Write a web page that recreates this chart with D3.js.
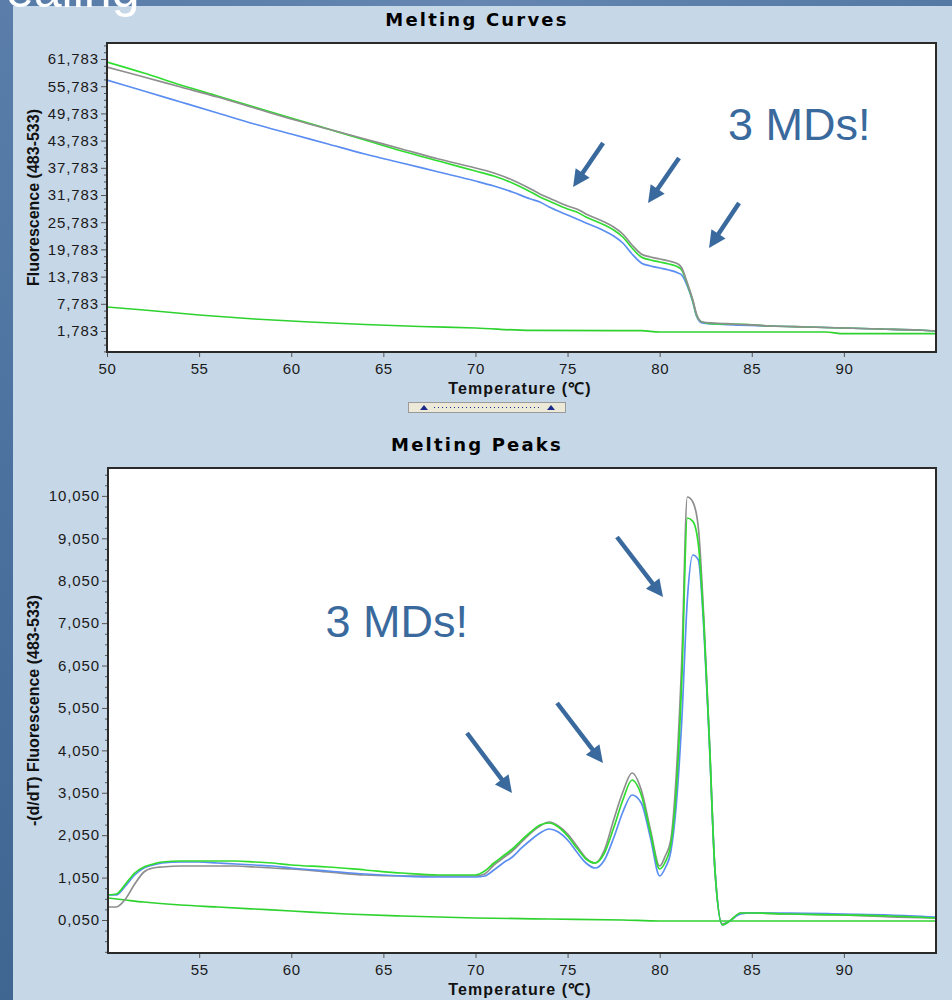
<!DOCTYPE html>
<html>
<head>
<meta charset="utf-8">
<script src="https://cdn.jsdelivr.net/npm/d3@7"></script>
<style>
  html, body { margin: 0; padding: 0; background: #c6d7e7; }
  svg { display: block; }
</style>
</head>
<body>
<svg id="chart" width="952" height="1000"></svg>
<script>
// ---------- Melting curves (fluorescence 483-533 vs temperature) ----------
const meltTemps = [50,52,54,56,58,60,62,64,66,68,70,71,72,73,73.5,74,75,75.5,76,77,77.5,78,78.5,79,79.5,80,80.5,81,81.2,81.5,81.8,82,82.3,83,84,86,88,90,92,94,95];
const meltGray  = [60021,57815,55609,53403,50977,48550,46344,44138,41932,39726,37741,36638,35094,33108,32005,31123,29358,28696,27593,25828,24725,23181,20755,18769,18107,17666,17225,16563,15681,12372,8622,5533,3768,3548,3327,2886,2665,2445,2224,2004,1783];
const meltGreen = [61124,58698,56051,53624,51197,48771,46344,43918,41491,39285,37079,35976,34432,32446,31343,30461,28696,28034,26931,25167,24064,22519,20093,18107,17446,17004,16563,15901,15240,12151,8401,5313,3768,3327,3327,2886,2665,2445,2224,2004,1783];
const meltBlue  = [57154,54727,52300,49874,47447,45241,43035,40829,38844,36858,34873,33770,32446,30902,30240,29137,27373,26490,25608,23843,22740,21196,18769,16784,16122,15681,15240,14578,14137,11710,8180,5092,3548,3327,3107,2886,2665,2445,2224,2004,1783];
// negative control
const meltBaseTemps = [50,52,55,58,61,64,67,70,73,79,80,89,90,95];
const meltBase      = [7077,6416,5313,4430,3768,3217,2776,2445,1900,1850,1562,1562,1187,1187];

const meltXTicks = [50,55,60,65,70,75,80,85,90];
const meltYTicks = [1783,7783,13783,19783,25783,31783,37783,43783,49783,55783,61783];

// ---------- Melting peaks (-d/dT fluorescence vs temperature) ----------
const peakTemps = [50.05,50.5,51,51.5,52,52.5,53,54,55,56,57,58,59,60,62,64,66,68,70,70.5,71,71.5,72,72.5,73,73.5,74,74.5,75,75.5,76,76.5,77,77.5,78,78.5,79,79.5,80,80.3,80.6,80.9,81.2,81.5,81.8,82.1,82.4,82.7,83,83.4,83.8,84.4,85,87,90,92.5,95];
const peakGray  = [357,357,545,899,1182,1276,1300,1323,1323,1323,1323,1300,1276,1253,1182,1111,1088,1088,1088,1135,1347,1512,1677,1889,2101,2267,2361,2267,2078,1795,1512,1394,1701,2408,3068,3516,3115,2172,1323,1559,1936,3469,6180,10024,9906,9293,7124,4294,1229,-44,26,215,215,191,168,121,97];
const peakGreen = [640,663,899,1158,1300,1370,1418,1441,1441,1441,1441,1418,1394,1347,1300,1229,1158,1111,1111,1205,1394,1559,1724,1936,2125,2290,2337,2243,2031,1748,1488,1394,1630,2219,2880,3351,2998,2101,1253,1418,1819,3115,5709,9529,9450,8900,7006,4247,1229,-68,26,215,215,191,168,144,97];
const peakBlue  = [640,640,852,1111,1276,1347,1394,1418,1418,1394,1370,1347,1323,1276,1205,1135,1088,1064,1064,1088,1229,1394,1535,1748,1936,2101,2196,2125,1936,1653,1394,1276,1465,1984,2597,2998,2809,1984,1088,1276,1653,2762,4766,7596,8657,8539,6888,4176,1229,-68,26,191,215,215,191,168,121];
// negative control
const peakBaseTemps = [50.05,51,52,54,56,58,60,63,66,70,74,78,80,95];
const peakBase      = [569,522,474,404,357,309,262,191,144,97,74,50,26,26];

const peakXTicks = [55,60,65,70,75,80,85,90];
const peakYTicks = [50,1050,2050,3050,4050,5050,6050,7050,8050,9050,10050];

// annotation arrows: [tail temperature, tail value, tip temperature, tip value]
const meltArrows = [[76.93,43256,75.30,33549],[81.05,39947,79.37,30020],[84.31,30020,82.68,20093]];
const peakArrows = [[69.54,4459,71.98,3045],[74.43,5167,76.92,3752],[77.68,9081,80.18,7666]];

const COLORS = { gray: "#8e8e8e", green: "#2fdc2f", blue: "#5b8ef0", base: "#2ed22e", note: "#3a6a9d" };

// ---------- drawing ----------
const svg = d3.select("#chart");
const W = 952, H = 1000;
const defs = svg.append("defs");

const gv = defs.append("linearGradient").attr("id", "slideSide").attr("x1", 0).attr("y1", 0).attr("x2", 0).attr("y2", 1);
gv.append("stop").attr("offset", "0%").attr("stop-color", "#5a7ea9");
gv.append("stop").attr("offset", "45%").attr("stop-color", "#4c73a0");
gv.append("stop").attr("offset", "100%").attr("stop-color", "#3f6691");
const gh = defs.append("linearGradient").attr("id", "slideTop").attr("x1", 0).attr("y1", 0).attr("x2", 1).attr("y2", 0);
gh.append("stop").attr("offset", "0%").attr("stop-color", "#587ca8");
gh.append("stop").attr("offset", "50%").attr("stop-color", "#6486b0");
gh.append("stop").attr("offset", "100%").attr("stop-color", "#5479a5");

svg.append("rect").attr("width", W).attr("height", H).attr("fill", "#c6d7e7");
svg.append("rect").attr("x", 0).attr("y", 0).attr("width", W).attr("height", 6).attr("fill", "url(#slideTop)");
svg.append("rect").attr("x", 0).attr("y", 0).attr("width", 13).attr("height", H).attr("fill", "url(#slideSide)");
svg.append("text").attr("x", 6).attr("y", 7)
  .attr("font-family", "Liberation Sans, Arial, sans-serif").attr("font-size", 50)
  .attr("fill", "#ffffff").text("ealing");

const thousands = v => `${Math.floor(v / 1000)},${String(v % 1000).padStart(3, "0")}`;

function drawPanel(p) {
  const x = d3.scaleLinear().domain(p.xDomain).range([p.left, p.right]);
  const y = d3.scaleLinear().domain(p.yDomain).range([p.bottom, p.top]);
  const g = svg.append("g");

  g.append("text").attr("x", 477).attr("y", p.titleY).attr("text-anchor", "middle")
    .attr("font-family", "DejaVu Sans, Verdana, sans-serif").attr("font-weight", "bold")
    .attr("font-size", 18).attr("letter-spacing", 2.2).attr("fill", "#000").text(p.title);

  g.append("rect").attr("x", p.left).attr("y", p.top)
    .attr("width", p.right - p.left).attr("height", p.bottom - p.top).attr("fill", "#ffffff");

  const clipId = "clip-" + p.id;
  defs.append("clipPath").attr("id", clipId).append("rect")
    .attr("x", p.left).attr("y", p.top).attr("width", p.right - p.left).attr("height", p.bottom - p.top);

  // minor y ticks
  const yMin = p.yTicks[0] - 4 * p.yMinor, yMax = p.yTicks[p.yTicks.length - 1] + 4 * p.yMinor;
  const minor = d3.range(yMin, yMax + 1, p.yMinor).filter(v => v > p.yDomain[0] && v < p.yDomain[1] && !p.yTicks.includes(v));
  const yMinorAxis = g.append("g").attr("transform", `translate(${p.left},0)`)
    .call(d3.axisLeft(y).tickValues(minor).tickSize(3).tickFormat(""));
  yMinorAxis.select(".domain").remove();
  yMinorAxis.selectAll("line").attr("stroke", "#555");

  const yAxis = g.append("g").attr("transform", `translate(${p.left},0)`)
    .call(d3.axisLeft(y).tickValues(p.yTicks).tickSize(6).tickPadding(2).tickFormat(thousands));
  yAxis.select(".domain").remove();
  yAxis.selectAll("line").attr("stroke", "#555");
  yAxis.selectAll("text").attr("font-family", "Liberation Sans, Arial, sans-serif")
    .attr("font-size", 15).attr("letter-spacing", 0.9).attr("fill", "#1a1a1a");

  const xAxis = g.append("g").attr("transform", `translate(0,${p.bottom})`)
    .call(d3.axisBottom(x).tickValues(p.xTicks).tickSize(5).tickPadding(6).tickFormat(d3.format("d")));
  xAxis.select(".domain").remove();
  xAxis.selectAll("line").attr("stroke", "#555");
  xAxis.selectAll("text").attr("font-family", "Liberation Sans, Arial, sans-serif")
    .attr("font-size", 15).attr("letter-spacing", 0.6).attr("fill", "#1a1a1a");

  g.append("text").attr("transform", `translate(39,${(p.top + p.bottom) / 2}) rotate(-90)`)
    .attr("text-anchor", "middle").attr("font-family", "Liberation Sans, Arial, sans-serif")
    .attr("font-weight", "bold").attr("font-size", 16).attr("fill", "#111").text(p.yTitle);

  g.append("text").attr("x", 520).attr("y", p.xTitleY).attr("text-anchor", "middle")
    .attr("font-family", "Liberation Sans, Arial, sans-serif").attr("font-weight", "bold")
    .attr("font-size", 16).attr("letter-spacing", 1.1).attr("fill", "#111").text("Temperature (\u2103)");

  const line = d3.line().x(d => x(d[0])).y(d => y(d[1])).curve(d3.curveMonotoneX);
  const plot = g.append("g").attr("clip-path", `url(#${clipId})`);
  p.series.forEach(s => {
    plot.append("path").datum(s.temps.map((t, i) => [t, s.values[i]]))
      .attr("d", line).attr("fill", "none").attr("stroke", s.color)
      .attr("stroke-width", 1.7).attr("stroke-linejoin", "round");
  });

  g.append("rect").attr("x", p.left).attr("y", p.top)
    .attr("width", p.right - p.left).attr("height", p.bottom - p.top)
    .attr("fill", "none").attr("stroke", "#2a2a2a").attr("stroke-width", 2);

  // annotation text and arrows
  g.append("text").attr("x", x(p.note.t)).attr("y", y(p.note.v)).attr("text-anchor", p.note.anchor)
    .attr("font-family", "Liberation Sans, Arial, sans-serif").attr("font-size", 45)
    .attr("fill", COLORS.note).text("3 MDs!");

  p.arrows.forEach(a => {
    const x0 = x(a[0]), y0 = y(a[1]), x1 = x(a[2]), y1 = y(a[3]);
    const len = Math.hypot(x1 - x0, y1 - y0);
    const ux = (x1 - x0) / len, uy = (y1 - y0) / len;
    const L = 17, w = 8.5;
    const bx = x1 - ux * L, by = y1 - uy * L;
    g.append("line").attr("x1", x0).attr("y1", y0).attr("x2", bx + ux).attr("y2", by + uy)
      .attr("stroke", COLORS.note).attr("stroke-width", 4.5);
    g.append("path")
      .attr("d", `M${x1},${y1}L${bx - uy * w},${by + ux * w}L${bx + uy * w},${by - ux * w}Z`)
      .attr("fill", COLORS.note);
  });
  return { x, y };
}

drawPanel({
  id: "melt", left: 107, right: 936, top: 43, bottom: 352,
  xDomain: [50, 95], yDomain: [-2850, 65316],
  xTicks: meltXTicks, yTicks: meltYTicks, yMinor: 1500,
  title: "Melting Curves", titleY: 26, xTitleY: 394,
  yTitle: "Fluorescence (483-533)",
  series: [
    { temps: meltBaseTemps, values: meltBase, color: COLORS.base },
    { temps: meltTemps, values: meltBlue, color: COLORS.blue },
    { temps: meltTemps, values: meltGreen, color: COLORS.green },
    { temps: meltTemps, values: meltGray, color: COLORS.gray }
  ],
  note: { t: 83.71, v: 43918, anchor: "start" },
  arrows: meltArrows
});

drawPanel({
  id: "peak", left: 108, right: 936, top: 468, bottom: 953,
  xDomain: [50.05, 95], yDomain: [-728, 10708],
  xTicks: peakXTicks, yTicks: peakYTicks, yMinor: 250,
  title: "Melting Peaks", titleY: 451, xTitleY: 995,
  yTitle: "-(d/dT) Fluorescence (483-533)",
  series: [
    { temps: peakBaseTemps, values: peakBase, color: COLORS.base },
    { temps: peakTemps, values: peakGray, color: COLORS.gray },
    { temps: peakTemps, values: peakBlue, color: COLORS.blue },
    { temps: peakTemps, values: peakGreen, color: COLORS.green }
  ],
  note: { t: 69.59, v: 6723, anchor: "end" },
  arrows: peakArrows
});

// range scrollbar under the upper chart
const bar = svg.append("g");
bar.append("rect").attr("x", 408.5).attr("y", 402.5).attr("width", 157).attr("height", 10)
  .attr("fill", "#ece9d8").attr("stroke", "#9a9a9a");
[[424, 1], [551, 1]].forEach(([cx]) => {
  bar.append("path").attr("d", `M${cx - 4},${410}L${cx + 4},${410}L${cx},${405}Z`).attr("fill", "#1c2a8a");
});
bar.append("line").attr("x1", 434).attr("x2", 542).attr("y1", 407.5).attr("y2", 407.5)
  .attr("stroke", "#1c2a8a").attr("stroke-width", 1).attr("stroke-dasharray", "1,3");
</script>
</body>
</html>
